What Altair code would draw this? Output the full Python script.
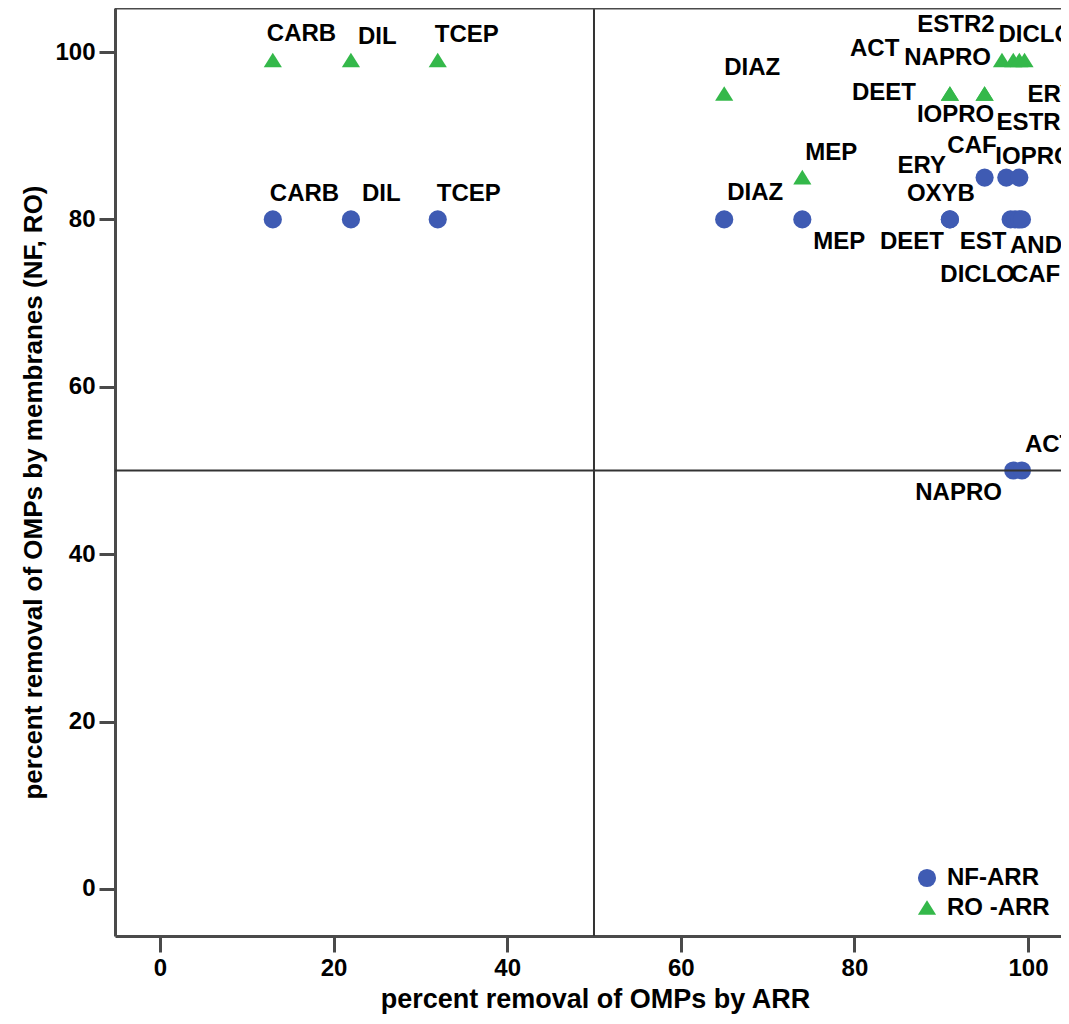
import altair as alt
import pandas as pd

# ---- data ----
nf_names = ["CARB", "DIL", "TCEP", "DIAZ", "MEP", "OXYB", "DEET", "EST", "AND", "DICLO", "CAF",
            "ERY", "CAF", "IOPRO", "NAPRO", "ACT"]
nf_x = [13, 22, 32, 65, 74, 91, 91, 98, 98.5, 99, 99.3, 95, 97.5, 99, 98.3, 99.3]
nf_y = [80, 80, 80, 80, 80, 80, 80, 80, 80, 80, 80, 85, 85, 85, 50, 50]

ro_names = ["CARB", "DIL", "TCEP", "DIAZ", "MEP", "DEET", "IOPRO", "ERY", "ESTR2",
            "ACT", "NAPRO", "ESTR2", "DICLO"]
ro_x = [13, 22, 32, 65, 74, 91, 91, 95, 95, 97, 98.3, 99, 99.6]
ro_y = [99, 99, 99, 95, 85, 95, 95, 95, 95, 99, 99, 99, 99]

# label placement (pixel offsets of label's left/middle from its point)
nf_dx = [-3, 11, -1, 3, 11, -43, -70, -51, -5, -79, -11, -87, -59, -24, -98, 3]
nf_dy = [-25, -25, -25, -26, 23, -25, 23, 23, 27, 56, 56, -12, -32, -21, 23, -25]
ro_dx = [-6, 7, -3, 0, 3, -98, -33, 43, 12, -152, -109, -102, -26]
ro_dy = [-26, -23, -25, -26, -25, -1, 21, 1, 29, -11, -2, -35, -25]

series = ["NF-ARR", "RO -ARR"]
colors = ["#3f5bb3", "#34b84a"]
triangle = "M-1,0.75L0,-0.85L1,0.75Z"

rows = []
for n, x, y, dx, dy in zip(nf_names, nf_x, nf_y, nf_dx, nf_dy):
    rows.append(dict(name=n, x=x, y=y, dx=dx, dy=dy, series=series[0]))
for n, x, y, dx, dy in zip(ro_names, ro_x, ro_y, ro_dx, ro_dy):
    rows.append(dict(name=n, x=x, y=y, dx=dx, dy=dy, series=series[1]))
df = pd.DataFrame(rows)

W, H = 946, 928
FONT = "Liberation Sans"
FRAME = "#4a4a4a"
XD = [-5.18, 103.8]
YD = [-5.62, 105.26]
xpp = (XD[1] - XD[0]) / W   # data units per pixel
ypp = (YD[1] - YD[0]) / H

xscale = alt.Scale(domain=XD, nice=False, zero=False)
yscale = alt.Scale(domain=YD, nice=False, zero=False)

xaxis = alt.Axis(values=[0, 20, 40, 60, 80, 100], title="percent removal of OMPs by ARR",
                 grid=False, domainColor=FRAME, domainWidth=3, tickColor=FRAME, tickWidth=3,
                 tickSize=16, labelFont=FONT, labelFontWeight="bold", labelFontSize=24,
                 labelColor="black", labelPadding=4, titleFont=FONT, titleFontWeight="bold",
                 titleFontSize=27, titleColor="black", titlePadding=6, labelFlush=False,
                 titleX=480)
yaxis = alt.Axis(values=[0, 20, 40, 60, 80, 100], title="percent removal of OMPs by membranes (NF, RO)",
                 grid=False, domainColor=FRAME, domainWidth=3, tickColor=FRAME, tickWidth=3,
                 tickSize=16, labelFont=FONT, labelFontWeight="bold", labelFontSize=24,
                 labelColor="black", labelPadding=4, titleFont=FONT, titleFontWeight="bold",
                 titleFontSize=26, titleColor="black", titlePadding=8, labelFlush=False,
                 titleY=484)

legend = alt.Legend(title=None, orient="none", legendX=800, legendY=858,
                    labelFont=FONT, labelFontWeight="bold", labelFontSize=24,
                    labelColor="black", symbolSize=330, rowPadding=6,
                    labelOffset=8, padding=0, symbolStrokeWidth=0)

base = alt.Chart(df)

points = base.mark_point(filled=True, opacity=1, size=330, strokeWidth=0).encode(
    x=alt.X("x:Q", scale=xscale, axis=xaxis),
    y=alt.Y("y:Q", scale=yscale, axis=yaxis),
    color=alt.Color("series:N", scale=alt.Scale(domain=series, range=colors), legend=legend),
    shape=alt.Shape("series:N", scale=alt.Scale(domain=series, range=["circle", triangle]),
                    legend=legend),
)

labels = base.transform_calculate(
    lx=f"datum.x + datum.dx * {xpp}",
    ly=f"datum.y - datum.dy * {ypp}",
).mark_text(align="left", baseline="middle", font=FONT, fontWeight="bold",
            fontSize=24, color="black", clip=True).encode(
    x=alt.X("lx:Q", scale=xscale),
    y=alt.Y("ly:Q", scale=yscale),
    text="name:N",
)

ref_df = pd.DataFrame({"v": [50]})
vline = alt.Chart(ref_df).mark_rule(color="#333333", strokeWidth=2).encode(x="v:Q")
hline = alt.Chart(ref_df).mark_rule(color="#333333", strokeWidth=2).encode(y="v:Q")
top = alt.Chart(ref_df).mark_rule(color=FRAME, strokeWidth=3).encode(
    x=alt.value(0), x2=alt.value(W), y=alt.value(0))

chart = alt.layer(points, vline, hline, top, labels).properties(
    width=W, height=H,
    autosize=alt.AutoSizeParams(type="none"),
    padding={"left": 107, "top": 0, "right": 0, "bottom": 80},
).configure_view(fill="#f0f0f0", stroke=None).configure(background="white")

chart.save("out.html", embed_options={"renderer": "svg", "actions": False})
